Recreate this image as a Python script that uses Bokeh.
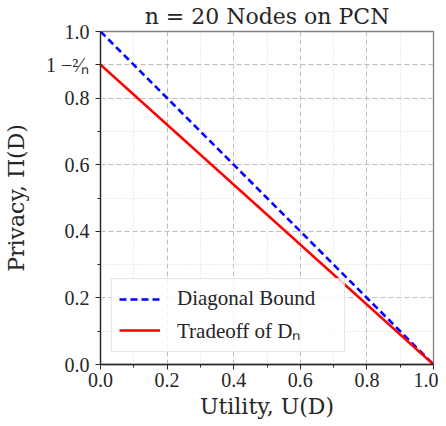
from bokeh.plotting import figure
from bokeh.models import Range1d, FixedTicker, Legend, LegendItem, LinearAxis
from bokeh.embed import file_html
from bokeh.resources import INLINE

# ---- data ----
utility = [0.0, 1.0]
diagonal_bound = [1.0, 0.0]
tradeoff_dn = [0.9, 0.0]

x_ticks = [0.0, 0.2, 0.4, 0.6, 0.8, 1.0]
x_tick_labels = ["0.0", "0.2", "0.4", "0.6", "0.8", "1.0"]
x_minor = [0.1, 0.3, 0.5, 0.7, 0.9]
y_ticks = [0.0, 0.2, 0.4, 0.6, 0.8, 0.9, 1.0]
y_tick_labels = ["0.0", "0.2", "0.4", "0.6", "0.8", "1 −²⁄ₙ", "1.0"]
y_minor = [0.1, 0.3, 0.5, 0.7]
title_text = "n = 20 Nodes on PCN"
series_labels = ["Diagonal Bound", "Tradeoff of Dₙ"]

AXFONT = "DejaVu Serif"
FONT = "Liberation Serif"
DARK = "#262626"

p = figure(width=438, height=424, frame_width=333, frame_height=333,
           x_range=Range1d(0, 1), y_range=Range1d(0, 1),
           output_backend="svg", toolbar_location=None,
           min_border_left=100, min_border_right=5, min_border_top=29, min_border_bottom=56)
p.background_fill_color = "white"
p.border_fill_color = "white"
p.outline_line_color = "#808080"
p.outline_line_width = 1.3

xax = p.below[0]
yax = p.left[0]

# title drawn as the label of a bare axis above the frame
top_axis = LinearAxis(ticker=FixedTicker(ticks=[]), axis_label=title_text)
top_axis.axis_line_color = None
top_axis.major_tick_line_color = None
top_axis.minor_tick_line_color = None
top_axis.major_tick_out = 0
top_axis.minor_tick_out = 0
top_axis.major_label_standoff = 0
top_axis.axis_label_standoff = 3
top_axis.axis_label_text_font = AXFONT
top_axis.axis_label_text_font_size = "22px"
top_axis.axis_label_text_font_style = "normal"
top_axis.axis_label_text_color = DARK
p.add_layout(top_axis, "above")

xax.ticker = FixedTicker(ticks=x_ticks, minor_ticks=x_minor)
yax.ticker = FixedTicker(ticks=y_ticks, minor_ticks=y_minor)
xax.major_label_overrides = dict(zip(x_ticks, x_tick_labels))
yax.major_label_overrides = dict(zip(y_ticks, y_tick_labels))

for ax in (xax, yax):
    ax.axis_line_color = DARK
    ax.axis_line_width = 1.3
    ax.major_tick_line_color = DARK
    ax.minor_tick_line_color = DARK
    ax.major_tick_out = 5
    ax.major_tick_in = 0
    ax.minor_tick_out = 3
    ax.minor_tick_in = 0
    ax.major_label_text_font = FONT
    ax.major_label_text_font_size = "20px"
    ax.major_label_text_font_style = "normal"
    ax.major_label_text_color = DARK
    ax.axis_label_text_font = AXFONT
    ax.axis_label_text_font_size = "22px"
    ax.axis_label_text_font_style = "normal"
    ax.axis_label_text_color = DARK

xax.axis_label = "Utility, U(D)"
yax.axis_label = "Privacy, Π(D)"
xax.major_label_standoff = 3
xax.axis_label_standoff = 4
yax.major_label_standoff = 6
yax.axis_label_standoff = 14

for g in (p.xgrid[0], p.ygrid[0]):
    g.grid_line_color = "#bdbdbd"
    g.grid_line_dash = "5 3"
    g.grid_line_width = 1
    g.minor_grid_line_color = "#d9d9d9"
    g.minor_grid_line_dash = "1 2"
    g.minor_grid_line_width = 1

r_diag = p.line(utility, diagonal_bound, line_color="#0000ff", line_width=2.6, line_dash="7 4")
r_trade = p.line(utility, tradeoff_dn, line_color="#ff0000", line_width=2.6)

legend = Legend(items=[LegendItem(label=series_labels[0], renderers=[r_diag]),
                       LegendItem(label=series_labels[1], renderers=[r_trade])],
                location=(11, 12))
legend.label_text_font = FONT
legend.label_text_font_size = "21px"
legend.label_text_font_style = "normal"
legend.label_text_color = DARK
legend.glyph_width = 41
legend.glyph_height = 22
legend.label_height = 22
legend.label_width = 160
legend.label_standoff = 17
legend.spacing = 5
legend.padding = 7
legend.margin = 0
legend.border_line_color = "#cccccc"
legend.border_line_width = 1
legend.background_fill_alpha = 0.8
p.add_layout(legend)

open("out.html", "w").write(file_html(p, INLINE))
